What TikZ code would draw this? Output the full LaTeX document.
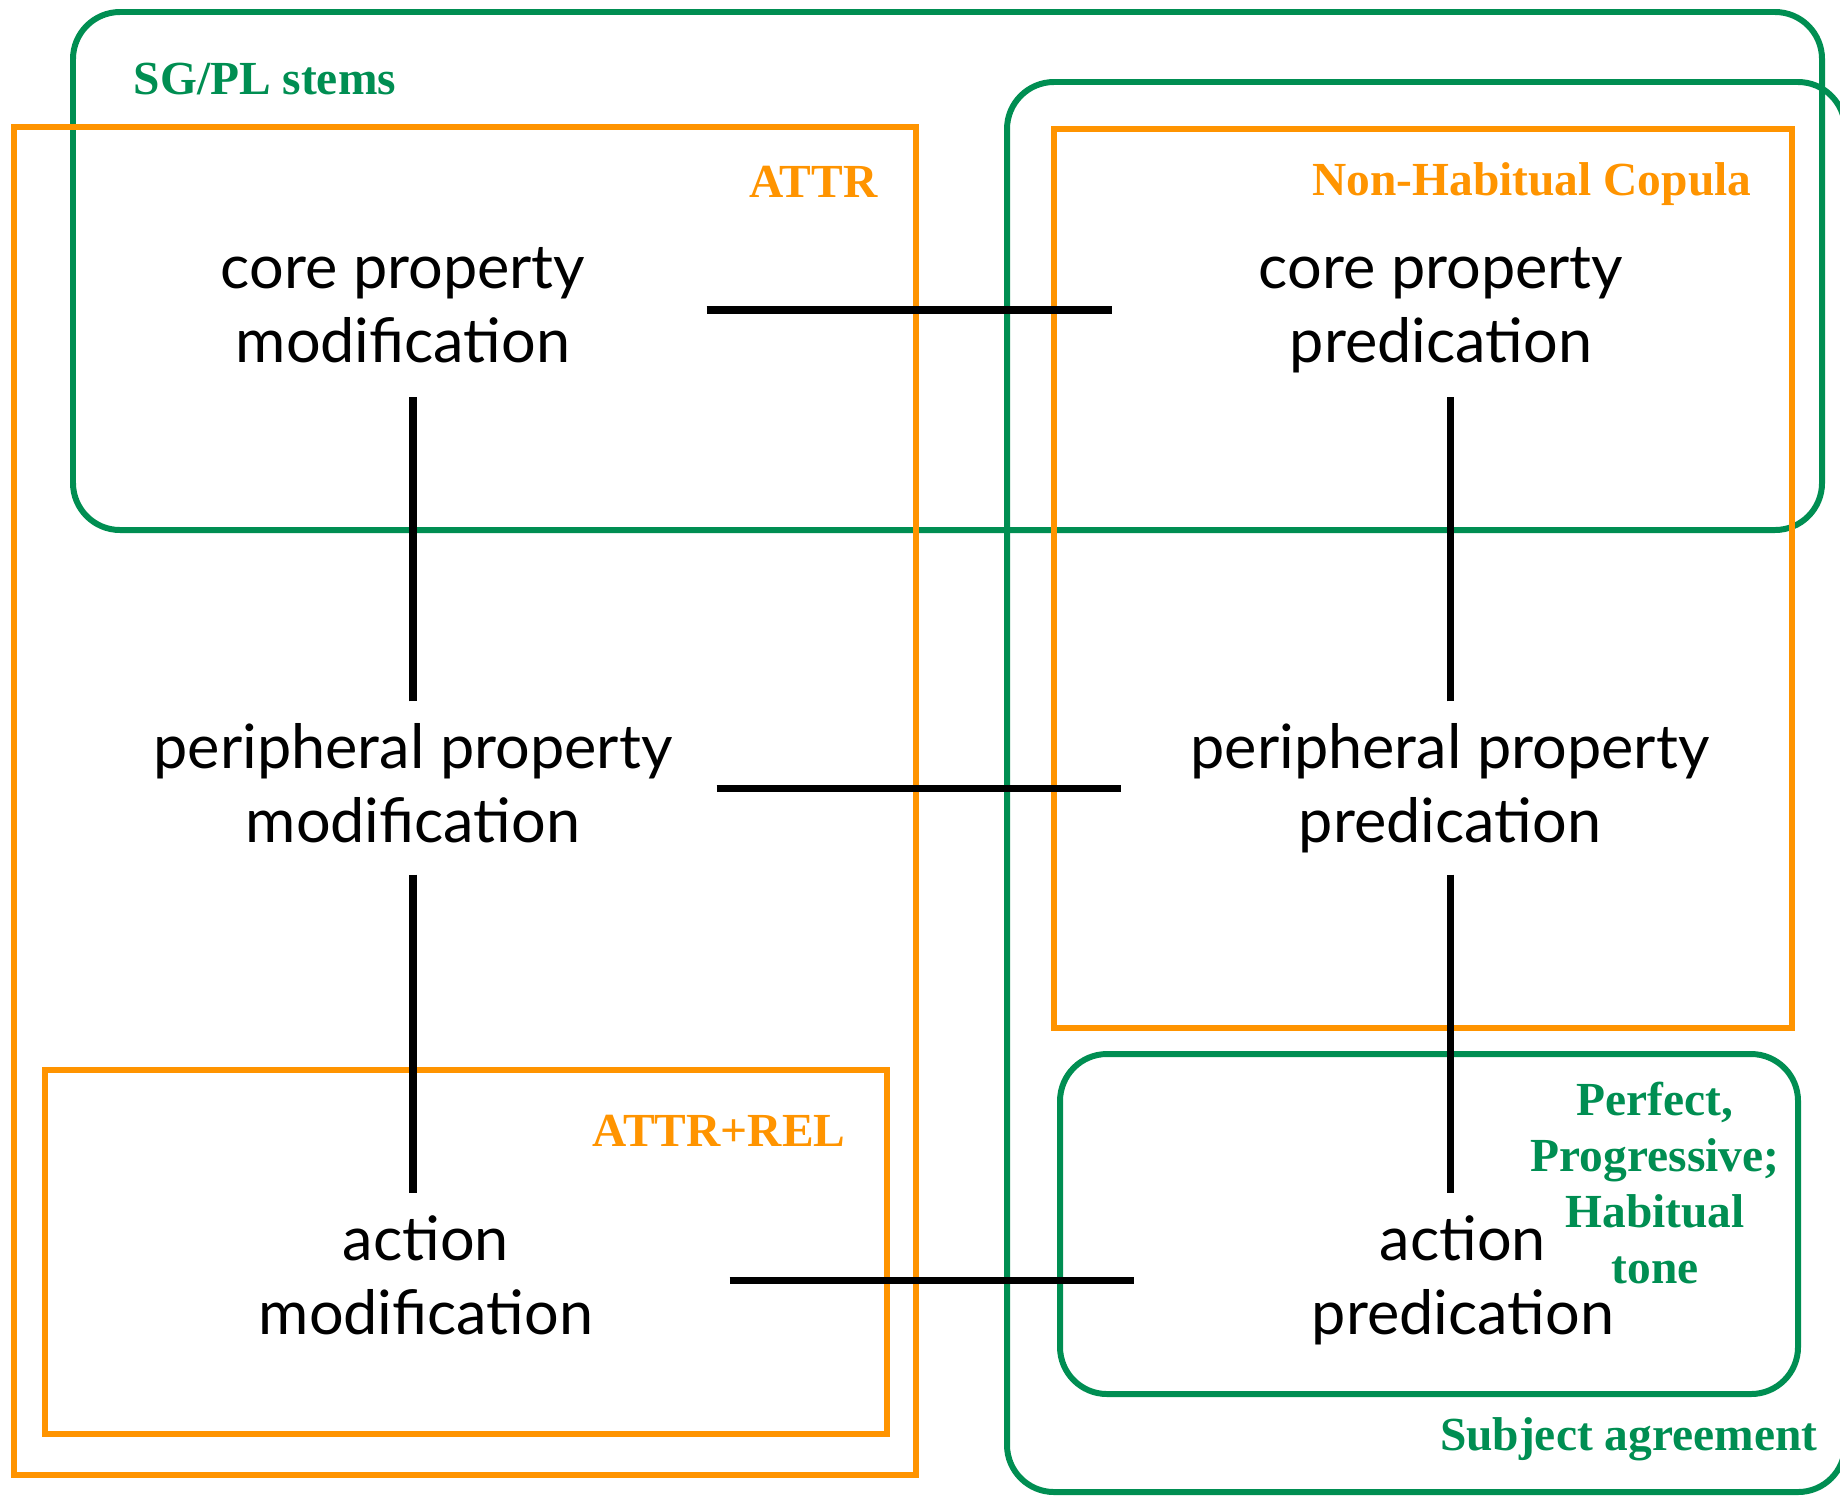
\documentclass[tikz,border=0pt]{standalone}
\usepackage{fontspec}
\setmainfont{Liberation Serif}
\newfontfamily\conceptfont{Lato}
\usetikzlibrary{positioning}

\definecolor{boxorange}{RGB}{255,148,0}
\definecolor{boxgreen}{RGB}{0,142,82}

\begin{document}
\begin{tikzpicture}[y=-1cm,
    concept/.style={align=center, minimum width=6.06cm, minimum height=1.72cm,
        inner sep=0pt, font=\conceptfont\fontsize{17.4}{21}\selectfont,
        execute at end node={\vphantom{p}}},
    link/.style={line width=2pt},
    obox/.style={draw=boxorange, line width=1.7pt},
    gbox/.style={draw=boxgreen, line width=1.7pt, rounded corners=0.47cm},
    olabel/.style={text=boxorange, inner sep=0pt, font=\bfseries\fontsize{13.5}{16}\selectfont},
    glabel/.style={text=boxgreen, inner sep=0pt, font=\bfseries\fontsize{13.5}{16}\selectfont, align=center}]
        \useasboundingbox (0,0) rectangle (18.40,14.95);

        % Green groupings
        \draw[gbox] (0.73,0.12) rectangle (18.22,5.30);
        \draw[gbox] (10.07,0.82) rectangle (18.45,14.92);
        \draw[gbox] (10.60,10.54) rectangle (17.98,13.94);

        % Orange groupings
        \draw[obox] (0.14,1.27) rectangle (9.16,14.75);
        \draw[obox] (10.54,1.29) rectangle (17.92,10.28);
        \draw[obox] (0.45,10.70) rectangle (8.87,14.34);

        % The six functions
        \node[concept] (cm) at (4.03, 3.10) {core property\\modification};
        \node[concept] (cp) at (14.41, 3.10) {core property\\predication};
        \node[concept] (pm) at (4.13, 7.88) {peripheral property\\modification};
        \node[concept] (pp) at (14.50, 7.88) {peripheral property\\predication};
        \node[concept] (am) at (4.26, 12.80) {action\\modification};
        \node[concept] (ap) at (14.63, 12.80) {action\\predication};

        % Connections
        \draw[link, shorten >=2.5mm] (cm.east) -- (cp.west);
        \draw[link, shorten >=2.5mm] (pm.east) -- (pp.west);
        \draw[link, shorten >=2.5mm] (am.east) -- (ap.west);
        \draw[link] (pm.north) -- (pm.north |- cm.south);
        \draw[link] (pm.south) -- (pm.south |- am.north);
        \draw[link] (pp.north) -- (pp.north |- cp.south);
        \draw[link] (pp.south) -- (pp.south |- ap.north);

        % Labels
        \node[glabel, anchor=west] at (1.33, 0.79) {SG/PL stems};
        \node[olabel, anchor=east] at (8.78, 1.82) {ATTR};
        \node[olabel, anchor=east] at (17.52, 1.84) {Non-Habitual Copula};
        \node[olabel, anchor=east] at (8.46, 11.31) {ATTR+REL};
        \node[glabel] at (16.55, 11.83) {Perfect,\\Progressive;\\Habitual\\tone};
        \node[glabel, anchor=east] at (18.18, 14.39) {Subject agreement};
    \end{tikzpicture}
\end{document}
